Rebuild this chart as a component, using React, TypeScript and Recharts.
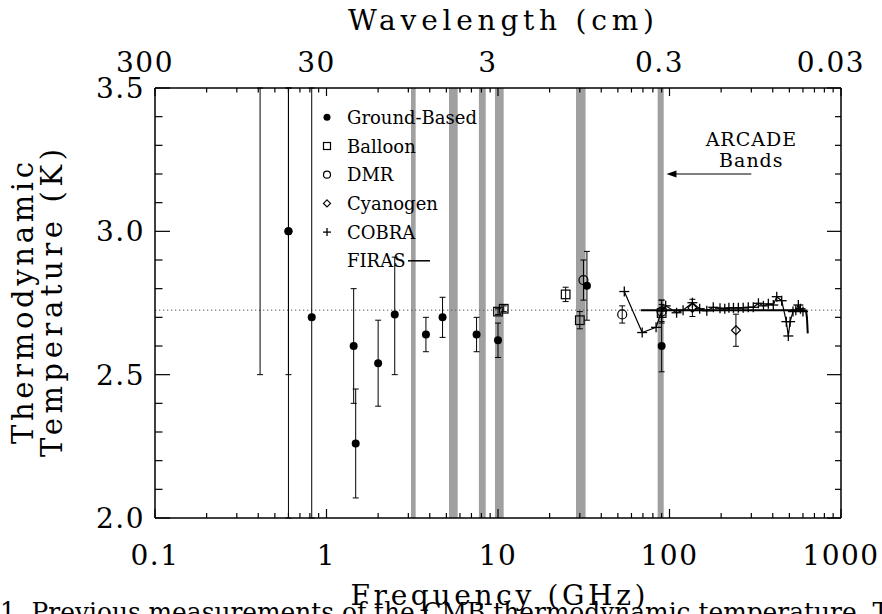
import {
  ComposedChart, Scatter, XAxis, YAxis, ErrorBar, ReferenceArea, ReferenceLine, Legend,
} from 'recharts';

const SERIF = '"DejaVu Serif", "Liberation Serif", serif';

// frequency (GHz), temperature (K), lower / upper error (K)
// bars running off the plot are cut at the frame (3.5 K top, 2.0 K bottom)
const groundFreq = [0.41, 0.6, 0.6, 0.82, 1.44, 1.48, 2.0, 2.5, 3.8, 4.75, 7.5, 10, 33, 90];
const groundTemp = [3.7, 3.0, 3.0, 2.7, 2.6, 2.26, 2.54, 2.71, 2.64, 2.7, 2.64, 2.62, 2.81, 2.6];
const groundLo = [1.2, 0.5, 1.0, 0.7, 0.2, 0.19, 0.15, 0.21, 0.06, 0.07, 0.06, 0.06, 0.12, 0.09];
const groundHi = [-0.2, 0.5, 0.5, 0.8, 0.2, 0.19, 0.15, 0.2, 0.06, 0.07, 0.06, 0.06, 0.12, 0.16];

const balloonFreq = [10, 10.8, 24.8, 30, 90];
const balloonTemp = [2.72, 2.73, 2.78, 2.69, 2.715];
const balloonErr = [0.01, 0.01, 0.025, 0.03, 0.03];

const dmrFreq = [31.5, 53, 90];
const dmrTemp = [2.83, 2.71, 2.72];
const dmrErr = [0.07, 0.03, 0.04];

const cyanFreq = [136, 244];
const cyanTemp = [2.733, 2.655];
const cyanErr = [0.03, 0.056];

const cobraFreq = [54.5, 69.3, 83.5, 90, 95, 110, 120, 136, 150, 165, 180, 197, 210, 222, 236, 252, 269, 288, 308,
  330, 353, 377, 403, 422, 451, 480, 493, 505, 525, 545, 564, 580, 600];
const cobraTemp = [2.79, 2.647, 2.665, 2.722, 2.74, 2.716, 2.725, 2.751, 2.73, 2.723, 2.735, 2.732, 2.73, 2.733, 2.733,
  2.733, 2.733, 2.735, 2.735, 2.749, 2.74, 2.747, 2.743, 2.772, 2.758, 2.685, 2.635, 2.685, 2.72, 2.725, 2.743, 2.73, 2.72];

const firasFreq = [68, 100, 150, 200, 300, 400, 500, 600, 625, 633, 640];
const firasTemp = [2.725, 2.725, 2.725, 2.725, 2.725, 2.725, 2.725, 2.725, 2.724, 2.7, 2.644];

// ARCADE bands (GHz)
const bandLo = [3.11, 5.18, 7.74, 9.6, 28.5, 85.3];
const bandHi = [3.31, 5.82, 8.48, 10.79, 32.4, 92.5];

const cmbTemp = 2.725;

const freqTicks = [
  0.1, 0.2, 0.3, 0.4, 0.5, 0.6, 0.7, 0.8, 0.9,
  1, 2, 3, 4, 5, 6, 7, 8, 9,
  10, 20, 30, 40, 50, 60, 70, 80, 90,
  100, 200, 300, 400, 500, 600, 700, 800, 900, 1000,
];
const freqMajor = [0.1, 1, 10, 100, 1000];
const freqLabels = ['0.1', '1', '10', '100', '1000'];
const waveLabels = ['300', '30', '3', '0.3', '0.03'];
const tempTicks = [2.0, 2.1, 2.2, 2.3, 2.4, 2.5, 2.6, 2.7, 2.8, 2.9, 3.0, 3.1, 3.2, 3.3, 3.4, 3.5];
const tempMajor = [2.0, 2.5, 3.0, 3.5];
const tempLabels = ['2.0', '2.5', '3.0', '3.5'];

const withErr = (f: number[], t: number[], lo: number[], hi: number[]) =>
  f.map((x, i) => ({ f: x, t: t[i], err: [lo[i], hi[i]] }));
const plain = (f: number[], t: number[]) => f.map((x, i) => ({ f: x, t: t[i] }));

const groundData = withErr(groundFreq, groundTemp, groundLo, groundHi);
const balloonData = withErr(balloonFreq, balloonTemp, balloonErr, balloonErr);
const dmrData = withErr(dmrFreq, dmrTemp, dmrErr, dmrErr);
const cyanData = withErr(cyanFreq, cyanTemp, cyanErr, cyanErr);
const cobraData = plain(cobraFreq, cobraTemp);
const firasData = plain(firasFreq, firasTemp);

const tickText = { fontFamily: SERIF, fontSize: 28, letterSpacing: 1.5, fill: '#000' };

// marker shapes
const FilledDot = ({ cx, cy, s = 4 }: any) => <circle cx={cx} cy={cy} r={s} fill="#000" />;
const OpenSquare = ({ cx, cy, s = 4.3 }: any) => (
  <rect x={cx - s} y={cy - s} width={2 * s} height={2 * s} fill="none" stroke="#000" strokeWidth={1.2} />
);
const OpenCircle = ({ cx, cy, s = 4.5 }: any) => (
  <circle cx={cx} cy={cy} r={s} fill="none" stroke="#000" strokeWidth={1.2} />
);
const Diamond = ({ cx, cy, s = 4.5 }: any) => (
  <polygon points={`${cx},${cy - s} ${cx + s},${cy} ${cx},${cy + s} ${cx - s},${cy}`} fill="none" stroke="#000" strokeWidth={1.2} />
);
const Plus = ({ cx, cy, s = 5 }: any) => (
  <g stroke="#000" strokeWidth={1.3}>
    <line x1={cx - s} x2={cx + s} y1={cy} y2={cy} />
    <line x1={cx} x2={cx} y1={cy - s} y2={cy + s} />
  </g>
);
const NoMark = () => <g />;

function BottomTick({ x, y, payload }: any) {
  const i = freqMajor.indexOf(payload.value);
  return (
    <g>
      <line x1={x} x2={x} y1={y} y2={y - (i >= 0 ? 9 : 5)} stroke="#000" strokeWidth={1.2} />
      {i >= 0 && <text x={x} y={y + 47} textAnchor="middle" {...tickText}>{freqLabels[i]}</text>}
    </g>
  );
}

function TopTick({ x, y, payload }: any) {
  const i = freqMajor.indexOf(payload.value);
  return (
    <g>
      <line x1={x} x2={x} y1={y} y2={y + (i >= 0 ? 8 : 4.5)} stroke="#000" strokeWidth={1.2} />
      {i >= 0 && <text x={x - 10} y={y - 16} textAnchor="middle" {...tickText}>{waveLabels[i]}</text>}
    </g>
  );
}

function LeftTick({ x, y, payload }: any) {
  const i = tempMajor.indexOf(payload.value);
  return (
    <g>
      <line x1={x} x2={x + (i >= 0 ? 15 : 7.5)} y1={y} y2={y} stroke="#000" strokeWidth={1.2} />
      {i >= 0 && <text x={x - 10} y={y + 10} textAnchor="end" {...tickText}>{tempLabels[i]}</text>}
    </g>
  );
}

function RightTick({ x, y, payload }: any) {
  const major = tempMajor.includes(payload.value);
  return <line x1={x} x2={x - (major ? 14 : 6)} y1={y} y2={y} stroke="#000" strokeWidth={1.2} />;
}

const legendRows = [
  { name: 'Ground-Based', Mark: FilledDot, s: 3.5 },
  { name: 'Balloon', Mark: OpenSquare, s: 3.5 },
  { name: 'DMR', Mark: OpenCircle, s: 3.5 },
  { name: 'Cyanogen', Mark: Diamond, s: 3.5 },
  { name: 'COBRA', Mark: Plus, s: 4 },
];

function LegendBox() {
  const rowY = (i: number) => 17.3 + i * 28.7;
  return (
    <svg width={190} height={175} style={{ display: 'block' }}>
      {legendRows.map((r, i) => (
        <g key={r.name}>
          <r.Mark cx={9} cy={rowY(i)} s={r.s} />
          <text x={29} y={rowY(i) + 6.5} fontFamily={SERIF} fontSize={18}>{r.name}</text>
        </g>
      ))}
      <text x={29} y={rowY(5) + 6.5} fontFamily={SERIF} fontSize={18}>FIRAS</text>
      <line x1={90} x2={112} y1={rowY(5)} y2={rowY(5)} stroke="#000" strokeWidth={1.5} />
    </svg>
  );
}

function ArcadeArrow(p: any) {
  const y = p.y1;
  const left = Math.min(p.x1, p.x2);
  const right = Math.max(p.x1, p.x2);
  const txt = { fontFamily: SERIF, fontSize: 19, letterSpacing: 1, textAnchor: 'middle' as const, fill: '#000' };
  return (
    <g>
      <line x1={left + 8} x2={right} y1={y} y2={y} stroke="#000" strokeWidth={1.2} />
      <polygon points={`${left},${y} ${left + 10},${y - 3.5} ${left + 10},${y + 3.5}`} fill="#000" />
      <text x={right} y={y - 28} {...txt}>ARCADE</text>
      <text x={right} y={y - 7} {...txt}>Bands</text>
    </g>
  );
}

const titleText = { fontFamily: SERIF, fontSize: 28, fill: '#000', lengthAdjust: 'spacing' as const };

export default function App() {
  return (
    <div style={{ position: 'absolute', left: 0, top: 0, width: 882, height: 614, overflow: 'hidden', background: '#fff' }}>
      <ComposedChart width={882} height={614} margin={{ top: 0, right: 0, bottom: 0, left: 0 }}>
        <XAxis
          dataKey="f" type="number" scale="log" domain={[0.1, 1000]} allowDataOverflow
          ticks={freqTicks} interval={0} tickSize={0} tickMargin={0} height={96}
          axisLine={{ stroke: '#000', strokeWidth: 1.5 }} tick={<BottomTick />}
          label={{
            content: ({ viewBox }: any) => (
              <text x={viewBox.x + viewBox.width / 2} y={viewBox.y + 87} textAnchor="middle" textLength={295} {...titleText}>
                Frequency (GHz)
              </text>
            ),
          }}
        />
        <XAxis
          xAxisId="top" orientation="top" dataKey="f" type="number" scale="log" domain={[0.1, 1000]} allowDataOverflow
          ticks={freqTicks} interval={0} tickSize={0} tickMargin={0} height={88}
          axisLine={{ stroke: '#000', strokeWidth: 1.5 }} tick={<TopTick />}
          label={{
            content: ({ viewBox }: any) => (
              <text x={viewBox.x + viewBox.width / 2 + 3} y={30} textAnchor="middle" textLength={306} {...titleText}>
                Wavelength (cm)
              </text>
            ),
          }}
        />
        <YAxis
          dataKey="t" type="number" domain={[2, 3.5]} allowDataOverflow width={155}
          ticks={tempTicks} interval={0} tickSize={0} tickMargin={0}
          axisLine={{ stroke: '#000', strokeWidth: 1.5 }} tick={<LeftTick />}
          label={{
            content: ({ viewBox }: any) => {
              const cy = viewBox.y + viewBox.height / 2;
              return (
                <g>
                  <text transform={`translate(33,${cy}) rotate(-90)`} textAnchor="middle" textLength={282} {...titleText} fontSize={29}>
                    Thermodynamic
                  </text>
                  <text transform={`translate(62,${cy}) rotate(-90)`} textAnchor="middle" textLength={308} {...titleText} fontSize={29}>
                    Temperature (K)
                  </text>
                </g>
              );
            },
          }}
        />
        <YAxis
          yAxisId="right" orientation="right" dataKey="t" type="number" domain={[2, 3.5]} allowDataOverflow width={41}
          ticks={tempTicks} interval={0} tickSize={0} tickMargin={0}
          axisLine={{ stroke: '#000', strokeWidth: 1.5 }} tick={<RightTick />}
        />

        {bandLo.map((lo, i) => (
          <ReferenceArea key={lo} x1={lo} x2={bandHi[i]} fill="#a0a0a0" fillOpacity={1} stroke="none" />
        ))}
        <ReferenceLine y={cmbTemp} stroke="#555" strokeWidth={1} strokeDasharray="1.3 2.7" />
        <ReferenceLine segment={[{ x: 96, y: 3.2 }, { x: 300, y: 3.2 }]} shape={ArcadeArrow} ifOverflow="visible" />

        {/* carries the top (wavelength) and right axes, draws nothing */}
        <Scatter name="axes" data={cobraData} dataKey="t" xAxisId="top" yAxisId="right" shape={NoMark}
          legendType="none" isAnimationActive={false} />

        <Scatter name="Ground-Based" data={groundData} dataKey="t" shape={FilledDot} isAnimationActive={false}>
          <ErrorBar dataKey="err" direction="y" width={3} stroke="#000" strokeWidth={1} isAnimationActive={false} />
        </Scatter>
        <Scatter name="Balloon" data={balloonData} dataKey="t" shape={OpenSquare} isAnimationActive={false}>
          <ErrorBar dataKey="err" direction="y" width={3} stroke="#000" strokeWidth={1} isAnimationActive={false} />
        </Scatter>
        <Scatter name="DMR" data={dmrData} dataKey="t" shape={OpenCircle} isAnimationActive={false}>
          <ErrorBar dataKey="err" direction="y" width={3} stroke="#000" strokeWidth={1} isAnimationActive={false} />
        </Scatter>
        <Scatter name="Cyanogen" data={cyanData} dataKey="t" shape={Diamond} isAnimationActive={false}>
          <ErrorBar dataKey="err" direction="y" width={3} stroke="#000" strokeWidth={1} isAnimationActive={false} />
        </Scatter>
        <Scatter name="FIRAS" data={firasData} dataKey="t" shape={NoMark} fill="#000"
          line={{ stroke: '#000', strokeWidth: 2 }} lineType="joint" isAnimationActive={false} />
        <Scatter name="COBRA" data={cobraData} dataKey="t" shape={Plus} fill="#000"
          line={{ stroke: '#000', strokeWidth: 1.2 }} lineType="joint" isAnimationActive={false} />

        <Legend
          layout="vertical" align="center" verticalAlign="middle"
          wrapperStyle={{ left: 318, top: 100, width: 190, height: 175 }}
          content={() => <LegendBox />}
        />
      </ComposedChart>
      <svg width={882} height={614} style={{ position: 'absolute', left: 0, top: 0, pointerEvents: 'none' }}>
        <text x={0} y={621} fontFamily={SERIF} fontSize={26} textLength={905} lengthAdjust="spacingAndGlyphs">
          1. Previous measurements of the CMB thermodynamic temperature. Th
        </text>
      </svg>
    </div>
  );
}
